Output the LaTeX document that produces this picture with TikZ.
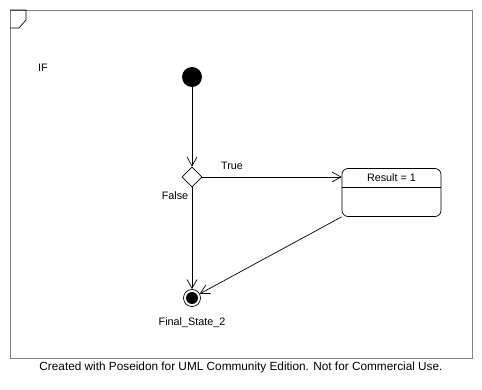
\documentclass[tikz,border=0pt]{standalone}
\usepackage{fontspec}
\setmainfont{Liberation Sans}
\usetikzlibrary{positioning, arrows.meta, shapes.geometric}

\begin{document}
\begin{tikzpicture}[
      x=1pt, y=-1pt,
      every node/.style={font=\fontsize{10.8}{12}\selectfont},
      every path/.style={line width=0.7pt},
      initstate/.style={circle, fill=black, minimum size=20pt, inner sep=0pt},
      decision/.style={diamond, draw, aspect=1, minimum size=20pt, inner sep=0pt},
      statebox/.style={draw, rounded corners=6pt, minimum width=99pt, minimum height=48pt, inner sep=0pt},
      finalstate/.style={circle, draw, minimum size=17pt, inner sep=0pt},
      flow/.style={-{Straight Barb[length=9pt, width=10pt]}},
    ]
    \useasboundingbox (0,0) rectangle (482,390);
    % frame
    \draw[gray, line width=0.8pt] (10,10) rectangle (472,358);
    \draw (10,10) -- (26,10) -- (26,20) -- (19,28) -- (10,28);
    \node (iflabel) at (43,68) {IF};

    % states
    \node[initstate] (start) at (192,77) {};
    \node[decision] (ifdec) at (192,177) {};
    \node[statebox] (result) at (391.5,192.5) {};
    \node (resulttitle) at (391.5,178) {Result = 1};
    \coordinate (divleft) at (342,187);
    \coordinate (divright) at (441,187);
    \draw (divleft) -- (divright);
    \node[finalstate] (final) at (192,298) {};
    \fill (final.center) circle (6);

    % transitions
    \draw[flow] (start) -- (ifdec);
    \draw[flow] (ifdec.east) -- (ifdec.east -| result.west);
    \draw[flow] (ifdec) -- (final);
    \draw[flow] (result.south west) -- (final);

    % labels
    \node (truelabel) at (232,166) {True};
    \node (falselabel) at (175,196) {False};
    \node (finallabel) at (192,323) {Final\_State\_2};
    \node[font=\fontsize{11.8}{13}\selectfont] (footer) at (241,367) {Created with Poseidon for UML Community Edition. Not for Commercial Use.};
  \end{tikzpicture}
\end{document}
